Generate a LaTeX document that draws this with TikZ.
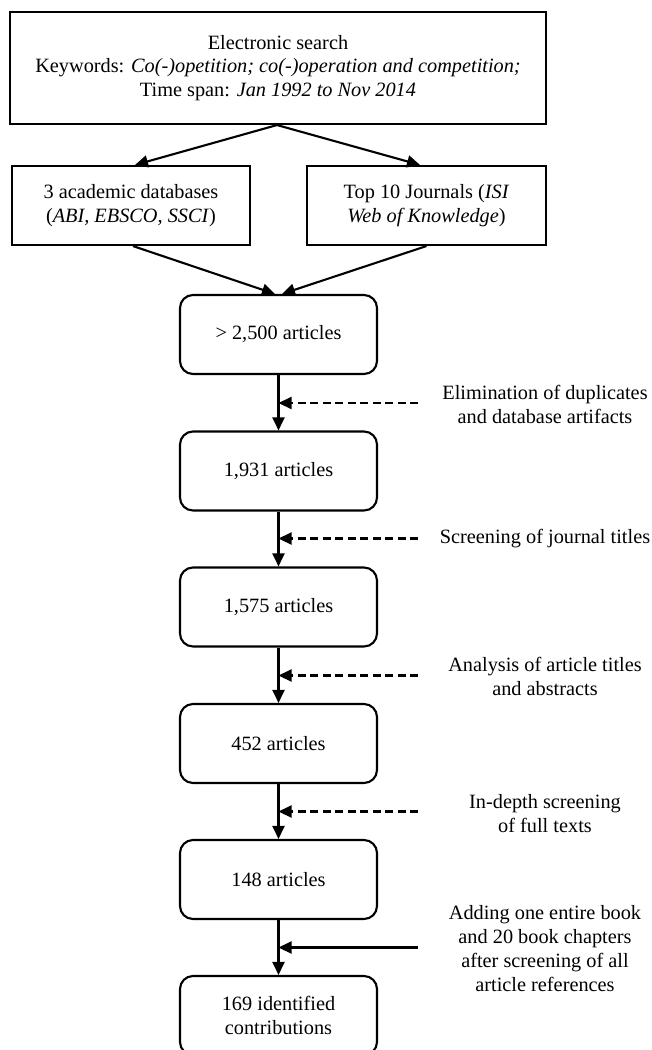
\documentclass[tikz,border=0pt]{standalone}
\usepackage{fontspec}
\setmainfont{Liberation Serif}
\usetikzlibrary{arrows.meta}
\begin{document}
\begin{tikzpicture}[x=1pt,y=-1pt,
  txt/.style={font=\fontsize{20.3pt}{23.5pt}\selectfont, align=center, inner sep=0pt},
  sqbox/.style={txt, draw, line width=2.1pt, rectangle},
  artbox/.style={txt, draw, line width=2.1pt, rectangle, rounded corners=13pt, minimum width=197pt, minimum height=79pt},
  arr/.style={line width=2.1pt, -{Triangle[length=13pt,width=12pt]}},
  dasharr/.style={arr, dash pattern=on 8pt off 4.5pt},
  lbl/.style={font=\fontsize{20.3pt}{24pt}\selectfont, align=center, inner sep=0pt}
]
\clip (0,0) rectangle (651,1050);
% top box
\node[sqbox, minimum width=536pt, minimum height=112pt] (search) at (278,68)
  {Electronic search\\Keywords: \textit{Co(-)opetition; co(-)operation and competition;}\\Time span: \textit{Jan 1992 to Nov 2014}};
% second level
\node[sqbox, minimum width=238pt, minimum height=79pt] (db) at (131,205.5)
  {3 academic databases\\(\textit{ABI, EBSCO, SSCI})};
\node[sqbox, minimum width=239pt, minimum height=79pt] (top) at (426.5,205.5)
  {Top 10 Journals (\textit{ISI}\\\textit{Web of Knowledge})};
% article boxes
\node[artbox] (a1) at (278.5,334.5) {> 2,500 articles};
\node[artbox] (a2) at (278.5,471) {1,931 articles};
\node[artbox] (a3) at (278.5,607) {1,575 articles};
\node[artbox] (a4) at (278.5,743.5) {452 articles};
\node[artbox] (a5) at (278.5,879.5) {148 articles};
\node[artbox] (a6) at (278.5,1015.5) {169 identified\\contributions};
% connectors from top
\draw[arr] ([xshift=-1pt]search.south) -- ([xshift=4pt]db.north);
\draw[arr] ([xshift=-1pt]search.south) -- ([xshift=-6.5pt]top.north);
\draw[arr] ([xshift=2pt]db.south) -- ([xshift=-3.5pt]a1.north);
\draw[arr] (top.south) -- ([xshift=3.5pt]a1.north);
% vertical chain
\draw[arr] (a1) -- (a2);
\draw[arr] (a2) -- (a3);
\draw[arr] (a3) -- (a4);
\draw[arr] (a4) -- (a5);
\draw[arr] (a5) -- (a6);
% side inputs
\coordinate (s1) at (418,403);
\coordinate (s2) at (418,538.5);
\coordinate (s3) at (418,675.5);
\coordinate (s4) at (418,811.5);
\coordinate (s5) at (418,947.5);
\draw[dasharr] (s1) -- (s1 -| a1);
\draw[dasharr] (s2) -- (s2 -| a1);
\draw[dasharr] (s3) -- (s3 -| a1);
\draw[dasharr] (s4) -- (s4 -| a1);
\draw[arr] (s5) -- (s5 -| a1);
% labels
\node[lbl] (l1) at (545,404) {Elimination of duplicates\\and database artifacts};
\node[lbl] (l2) at (545,538.5) {Screening of journal titles};
\node[lbl] (l3) at (545,676) {Analysis of article titles\\and abstracts};
\node[lbl] (l4) at (545,814) {In-depth screening\\of full texts};
\node[lbl] (l5) at (545,949) {Adding one entire book\\and 20 book chapters\\after screening of all\\article references};
\end{tikzpicture}
\end{document}
